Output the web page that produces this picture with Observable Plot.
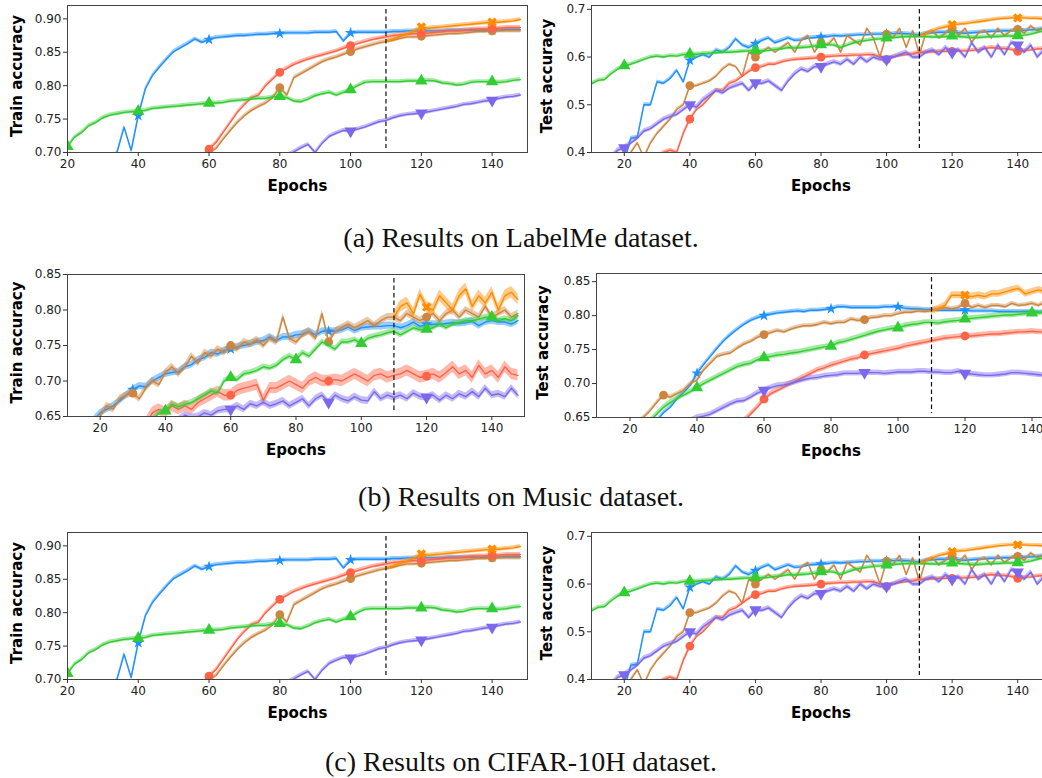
<!DOCTYPE html>
<html><head><meta charset="utf-8">
<script src="https://cdn.jsdelivr.net/npm/d3@7"></script>
<script src="https://cdn.jsdelivr.net/npm/@observablehq/plot@0.6"></script>
<style>
html,body{margin:0;padding:0;background:#fff;width:1042px;height:778px;overflow:hidden;position:relative}
.p{position:absolute}
.cap{position:absolute;left:0;width:1042px;text-align:center;font-family:"Liberation Serif","Times New Roman",serif;font-size:28px;line-height:32px;color:#111}
</style></head><body>
<div id="root"></div>
<script>
// ---------- series keys, colours, markers ----------
const seriesOrder = ["blue","brown","red","green","purple","orange"];
const seriesColor = {blue:"#1e90ff", orange:"#ff8c00", brown:"#cd853f", red:"#ff6347", green:"#32cd32", purple:"#7b68ee"};
const seriesSymbol = {blue:"star", orange:"cross", brown:"circle", red:"circle", green:"triangle", purple:"triangle"};
const seriesRotate = {blue:0, orange:45, brown:0, red:0, green:0, purple:180};
const seriesMarkR = {blue:3.6, orange:4.2, brown:4.4, red:4.4, green:4.6, purple:4.6};
const epochStep = 2;
const dashedEpoch = 110;

// ---------- LabelMe: train accuracy (first epoch of each series, then every 2 epochs) ----------
const labelmeTrainStart = {blue:32, orange:110, brown:60, red:60, green:20, purple:82};
const labelmeTrainBlue = [.685,.70,.738,.703,.755,.795,.815,.828,.84,.851,.857,.863,.870,.865,.869,.872,.873,.874,.875,.875,.876,.877,.877,.878,.878,.879,.879,.879,.879,.880,.880,.880,.881,.867,.879,.880,.880,.880,.880,.880,.881,.881,.882,.882,.882,.882,.882,.882,.883,.883,.883,.883,.883,.883,.883,.883,.884,.884,.884];
const labelmeTrainOrange = [.866,.870,.874,.877,.882,.888,.886,.887,.888,.889,.890,.891,.892,.893,.894,.895,.895,.896,.897,.899];
const labelmeTrainBrown = [.700,.706,.720,.733,.745,.755,.763,.769,.774,.782,.797,.786,.812,.818,.824,.830,.836,.840,.843,.847,.851,.855,.858,.861,.864,.866,.868,.871,.873,.873,.874,.875,.876,.877,.878,.878,.879,.880,.881,.881,.882,.882,.882,.882,.882];
const labelmeTrainRed = [.705,.715,.730,.745,.760,.772,.782,.786,.800,.810,.820,.826,.832,.836,.840,.843,.846,.849,.852,.856,.860,.863,.866,.869,.871,.873,.875,.876,.877,.878,.878,.879,.880,.881,.882,.882,.883,.884,.885,.885,.886,.886,.887,.887,.887];
const labelmeTrainGreen = [.709,.723,.730,.740,.745,.752,.756,.758,.760,.761,.762,.763,.766,.767,.768,.769,.770,.771,.772,.773,.774,.774,.775,.777,.778,.779,.780,.781,.781,.783,.784,.782,.777,.776,.780,.785,.788,.790,.786,.790,.794,.800,.805,.806,.806,.806,.806,.806,.807,.807,.807,.808,.807,.804,.803,.801,.802,.805,.806,.806,.806,.805,.806,.808,.809];
const labelmeTrainPurple = [.695,.701,.707,.712,.700,.714,.724,.729,.733,.732,.735,.738,.742,.746,.748,.752,.755,.757,.758,.759,.761,.763,.765,.767,.769,.772,.773,.775,.777,.778,.781,.783,.784,.786];
const labelmeTrainSd = {blue:.003, orange:.003, brown:.003, red:.003, green:.003, purple:.003};

// ---------- LabelMe: test accuracy ----------
const labelmeTestStart = {blue:20, orange:110, brown:20, red:30, green:10, purple:16};
const labelmeTestBlue = [.38,.43,.432,.50,.50,.548,.545,.555,.572,.548,.593,.60,.605,.60,.615,.61,.62,.638,.625,.62,.628,.635,.64,.63,.635,.64,.635,.636,.64,.641,.642,.643,.645,.644,.645,.646,.647,.647,.648,.648,.648,.649,.65,.649,.648,.646,.65,.651,.652,.652,.653,.651,.65,.651,.652,.653,.654,.654,.655,.655,.656,.656,.657,.658,.66];
const labelmeTestOrange = [.645,.648,.655,.66,.663,.668,.669,.67,.672,.674,.676,.678,.68,.681,.682,.682,.682,.681,.681,.68];
const labelmeTestBrown = [.37,.40,.42,.39,.42,.44,.455,.47,.49,.50,.54,.54,.545,.55,.56,.575,.585,.58,.56,.61,.60,.61,.62,.61,.62,.63,.61,.635,.645,.61,.63,.625,.64,.61,.645,.635,.625,.66,.64,.60,.648,.64,.66,.62,.655,.605,.65,.655,.64,.65,.66,.645,.66,.63,.65,.655,.64,.66,.645,.655,.658,.65,.665,.655,.66];
const labelmeTestRed = [.39,.40,.405,.40,.44,.47,.49,.50,.515,.53,.53,.545,.55,.56,.57,.578,.58,.585,.585,.59,.593,.595,.596,.597,.598,.60,.601,.602,.603,.603,.604,.604,.605,.605,.60,.595,.60,.603,.605,.607,.61,.61,.611,.612,.612,.612,.613,.613,.614,.615,.618,.62,.618,.618,.616,.612,.614,.615,.617,.618];
const labelmeTestGreen = [.544,.551,.553,.565,.575,.582,.585,.59,.595,.60,.602,.60,.603,.602,.605,.606,.606,.607,.608,.609,.61,.61,.611,.612,.613,.614,.613,.614,.616,.617,.62,.619,.62,.621,.623,.626,.626,.625,.62,.625,.63,.633,.635,.637,.638,.64,.641,.642,.643,.643,.643,.643,.642,.642,.643,.644,.643,.642,.641,.641,.642,.643,.643,.644,.644,.645,.646,.648,.652,.655];
const labelmeTestPurple = [.39,.405,.41,.42,.43,.445,.45,.46,.47,.475,.48,.49,.50,.495,.51,.52,.53,.525,.535,.54,.545,.53,.546,.545,.55,.54,.53,.55,.565,.575,.57,.58,.58,.585,.59,.585,.595,.585,.60,.59,.60,.595,.595,.60,.605,.61,.60,.60,.61,.615,.605,.62,.61,.615,.60,.63,.61,.62,.60,.625,.605,.63,.625,.61,.625,.60,.615];
const labelmeTestSd = {blue:.004, orange:.004, brown:.003, red:.004, green:.004, purple:.005};

// ---------- Music: train accuracy ----------
const musicTrainStart = {blue:18, orange:110, brown:18, red:34, green:36, purple:44};
const musicTrainBlue = [.645,.655,.66,.665,.672,.68,.688,.693,.692,.70,.705,.71,.712,.713,.72,.723,.73,.733,.74,.738,.743,.745,.748,.75,.752,.755,.757,.762,.757,.762,.762,.765,.766,.77,.765,.77,.77,.77,.772,.776,.771,.775,.776,.777,.777,.778,.778,.775,.778,.783,.777,.78,.78,.78,.781,.782,.781,.782,.784,.778,.783,.785,.783,.783,.78,.785];
const musicTrainOrange = [.79,.805,.81,.795,.822,.804,.80,.82,.81,.80,.82,.83,.805,.82,.81,.825,.80,.82,.825,.815];
const musicTrainBrown = [.64,.65,.665,.66,.675,.68,.683,.675,.69,.70,.695,.712,.72,.71,.72,.735,.725,.74,.735,.745,.74,.75,.745,.755,.752,.758,.75,.76,.755,.79,.76,.755,.765,.77,.76,.795,.755,.77,.775,.78,.775,.78,.785,.778,.785,.79,.79,.785,.795,.79,.785,.79,.795,.785,.795,.80,.79,.80,.795,.79,.805,.79,.795,.80,.79,.795];
const musicTrainRed = [.64,.655,.66,.655,.665,.66,.665,.66,.67,.675,.68,.685,.68,.68,.687,.69,.692,.695,.673,.69,.69,.695,.70,.695,.69,.70,.705,.70,.70,.702,.70,.705,.71,.705,.70,.708,.71,.705,.708,.71,.715,.71,.705,.707,.71,.705,.712,.72,.71,.715,.705,.722,.71,.715,.705,.72,.71,.708];
const musicTrainGreen = [.645,.655,.658,.667,.664,.667,.67,.675,.68,.686,.683,.70,.705,.702,.71,.712,.715,.72,.718,.722,.73,.735,.73,.74,.735,.745,.755,.75,.745,.755,.755,.758,.753,.76,.763,.765,.768,.77,.765,.77,.775,.772,.773,.775,.78,.775,.78,.782,.785,.785,.787,.79,.79,.785,.788,.785,.792];
const musicTrainPurple = [.645,.652,.648,.65,.655,.652,.658,.66,.66,.665,.66,.668,.665,.67,.665,.668,.672,.665,.67,.675,.665,.675,.68,.67,.68,.675,.672,.678,.673,.672,.685,.675,.68,.677,.68,.675,.683,.678,.677,.68,.673,.68,.675,.682,.678,.685,.678,.69,.68,.682,.678,.69,.68];
const musicTrainSd = {blue:.005, orange:.008, brown:.005, red:.008, green:.004, purple:.005};

// ---------- Music: test accuracy ----------
const musicTestStart = {blue:28, orange:110, brown:22, red:54, green:26, purple:38};
const musicTestBlue = [.645,.657,.665,.677,.687,.697,.715,.728,.74,.752,.763,.772,.78,.787,.793,.797,.80,.802,.804,.805,.806,.807,.806,.808,.808,.809,.81,.813,.813,.812,.812,.812,.812,.812,.813,.813,.813,.811,.81,.81,.809,.809,.808,.808,.808,.808,.808,.807,.807,.807,.807,.806,.806,.806,.806,.806,.806,.805,.805,.804,.804];
const musicTestOrange = [.807,.81,.815,.83,.83,.83,.828,.83,.828,.832,.832,.835,.838,.84,.832,.835,.838,.835,.84,.835];
const musicTestBrown = [.64,.65,.66,.672,.683,.68,.685,.69,.70,.705,.72,.73,.74,.743,.745,.752,.758,.762,.768,.772,.775,.778,.776,.78,.783,.785,.785,.787,.79,.788,.79,.79,.795,.793,.794,.797,.798,.80,.80,.803,.805,.805,.807,.806,.807,.81,.812,.81,.812,.818,.812,.815,.812,.815,.815,.813,.818,.815,.816,.818,.815,.82,.818,.82];
const musicTestRed = [.645,.655,.665,.677,.685,.69,.695,.70,.705,.71,.715,.72,.723,.727,.73,.733,.736,.738,.742,.744,.746,.748,.75,.752,.755,.757,.759,.761,.763,.765,.767,.768,.769,.77,.77,.771,.772,.773,.773,.774,.775,.776,.776,.777,.776,.776,.777,.777];
const musicTestGreen = [.645,.655,.665,.672,.678,.683,.688,.694,.70,.705,.71,.715,.72,.725,.728,.73,.735,.738,.74,.742,.743,.745,.746,.748,.75,.752,.754,.755,.76,.762,.765,.768,.771,.774,.777,.779,.781,.782,.785,.787,.788,.79,.79,.789,.791,.792,.793,.795,.796,.797,.798,.799,.80,.801,.801,.802,.803,.804,.804,.805,.805,.806];
const musicTestPurple = [.645,.65,.652,.655,.66,.665,.67,.674,.675,.68,.686,.69,.694,.697,.698,.70,.703,.706,.708,.709,.711,.712,.713,.715,.715,.715,.716,.716,.716,.715,.716,.717,.717,.717,.718,.718,.717,.717,.716,.716,.718,.715,.714,.713,.712,.712,.713,.714,.716,.716,.715,.714,.713,.712,.711,.712];
const musicTestSd = {blue:.003, orange:.005, brown:.003, red:.004, green:.004, purple:.004};

// ---------- CIFAR-10H (identical curves to LabelMe in the figure) ----------
const cifarTrainStart = labelmeTrainStart, cifarTestStart = labelmeTestStart;
const cifarTrainSd = labelmeTrainSd, cifarTestSd = labelmeTestSd;

// ---------- marker epochs ----------
const everyTwenty = [20,40,60,80,100,120,140];
const labelmeMarks = {blue:everyTwenty, orange:everyTwenty, brown:everyTwenty, red:everyTwenty, green:everyTwenty, purple:everyTwenty};
const musicTrainMarks = {blue:[30,60,90,120], orange:[120], brown:[30,60,90,120], red:[60,90,120], green:[40,60,80,100,120,140], purple:[60,90,120]};
const musicTestMarks = {blue:[40,60,80,100,120], orange:[120], brown:[30,60,90,120], red:[60,90,120], green:[40,60,80,100,120,140], purple:[60,90,120]};

// ---------- tick labels ----------
const xTicks = [20,40,60,80,100,120,140];
const yTicksTrainA = [0.70,0.75,0.80,0.85,0.90];
const yTicksTestA = [0.4,0.5,0.6,0.7];
const yTicksMusic = [0.65,0.70,0.75,0.80,0.85];
const captions = ["(a) Results on LabelMe dataset.","(b) Results on Music dataset.","(c) Results on CIFAR-10H dataset."];

const labelmeTrainVals = {blue:labelmeTrainBlue, orange:labelmeTrainOrange, brown:labelmeTrainBrown, red:labelmeTrainRed, green:labelmeTrainGreen, purple:labelmeTrainPurple};
const labelmeTestVals = {blue:labelmeTestBlue, orange:labelmeTestOrange, brown:labelmeTestBrown, red:labelmeTestRed, green:labelmeTestGreen, purple:labelmeTestPurple};
const musicTrainVals = {blue:musicTrainBlue, orange:musicTrainOrange, brown:musicTrainBrown, red:musicTrainRed, green:musicTrainGreen, purple:musicTrainPurple};
const musicTestVals = {blue:musicTestBlue, orange:musicTestOrange, brown:musicTestBrown, red:musicTestRed, green:musicTestGreen, purple:musicTestPurple};

function makePanel(o) {
  const marks = [];
  for (const s of seriesOrder) {
    const vals = o.vals[s], start = o.start[s], sd = o.sd[s];
    const rows = vals.map((v, i) => ({epoch: start + epochStep * i, v, lo: v - sd, hi: v + sd}));
    const byEpoch = new Map(rows.map(r => [r.epoch, r]));
    const mk = o.marks[s].map(e => byEpoch.get(e)).filter(Boolean);
    const c = seriesColor[s];
    marks.push(Plot.areaY(rows, {x: "epoch", y1: "lo", y2: "hi", fill: c, fillOpacity: 0.45, clip: true}));
    marks.push(Plot.lineY(rows, {x: "epoch", y: "v", stroke: c, strokeWidth: 1.4, clip: true}));
    marks.push(Plot.dot(mk, {x: "epoch", y: "v", symbol: seriesSymbol[s], rotate: seriesRotate[s], r: seriesMarkR[s], fill: c, stroke: "none", clip: true}));
  }
  marks.push(Plot.ruleX([dashedEpoch], {stroke: "#111", strokeWidth: 1.2, strokeDasharray: "4.5,3", insetTop: 4, insetBottom: 4}));
  marks.push(Plot.frame({stroke: "#444", strokeWidth: 1}));
  marks.push(Plot.axisX({ticks: xTicks, tickSize: 4, tickPadding: 3, label: null, stroke: "#333", fill: "#222"}));
  marks.push(Plot.axisY({ticks: o.yTicks, tickFormat: d3.format(o.yFmt), tickSize: 4, tickPadding: 2, label: null, stroke: "#333", fill: "#222"}));
  marks.push(Plot.text([o.yLabel], {frameAnchor: "left", textAnchor: "middle", lineAnchor: "middle", rotate: -90, dx: o.yLabelDx, dy: -3, text: d => d, fontWeight: "bold", fontSize: 15, fill: "#000"}));
  marks.push(Plot.text(["Epochs"], {frameAnchor: "bottom", textAnchor: "middle", lineAnchor: "middle", dy: 34, text: d => d, fontWeight: "bold", fontSize: 15, fill: "#000"}));
  const svg = Plot.plot({
    width: o.width, height: o.height,
    marginLeft: o.ml, marginRight: o.mr, marginTop: 5, marginBottom: o.height - 5 - o.fh,
    x: {domain: o.xDomain}, y: {domain: o.yDomain},
    style: {fontFamily: "DejaVu Sans, sans-serif", fontSize: "12px", background: "transparent", overflow: "visible"},
    marks
  });
  svg.classList.add("p");
  svg.style.left = o.left + "px";
  svg.style.top = o.top + "px";
  document.getElementById("root").appendChild(svg);
}

const trainA = (top, vals, start, sd) => makePanel({left: 0, top, width: 540, height: 200, ml: 67, mr: 13, fh: 147,
  xDomain: [20,150], yDomain: [0.70,0.92], yTicks: yTicksTrainA, yFmt: ".2f", yLabel: "Train accuracy", yLabelDx: -50,
  vals, start, sd, marks: labelmeMarks});
const testA = (top, vals, start, sd) => makePanel({left: 520, top, width: 540, height: 200, ml: 71, mr: 10, fh: 147,
  xDomain: [10,150], yDomain: [0.4,0.708], yTicks: yTicksTestA, yFmt: ".1f", yLabel: "Test accuracy", yLabelDx: -44,
  vals, start, sd, marks: labelmeMarks});

trainA(0, labelmeTrainVals, labelmeTrainStart, labelmeTrainSd);
testA(0, labelmeTestVals, labelmeTestStart, labelmeTestSd);

makePanel({left: 0, top: 269, width: 537, height: 195, ml: 67, mr: 13, fh: 142,
  xDomain: [10,150], yDomain: [0.65,0.85], yTicks: yTicksMusic, yFmt: ".2f", yLabel: "Train accuracy", yLabelDx: -50,
  vals: musicTrainVals, start: musicTrainStart, sd: musicTrainSd, marks: musicTrainMarks});
makePanel({left: 520, top: 268, width: 555, height: 197, ml: 76, mr: 10, fh: 144,
  xDomain: [10,150], yDomain: [0.65,0.862], yTicks: yTicksMusic, yFmt: ".2f", yLabel: "Test accuracy", yLabelDx: -53,
  vals: musicTestVals, start: musicTestStart, sd: musicTestSd, marks: musicTestMarks});

trainA(527, labelmeTrainVals, cifarTrainStart, cifarTrainSd);
testA(527, labelmeTestVals, cifarTestStart, cifarTestSd);

const capTops = [222, 481, 746];
captions.forEach((t, i) => {
  const d = document.createElement("div");
  d.className = "cap"; d.style.top = capTops[i] + "px"; d.textContent = t;
  document.body.appendChild(d);
});
</script>
</body></html>
